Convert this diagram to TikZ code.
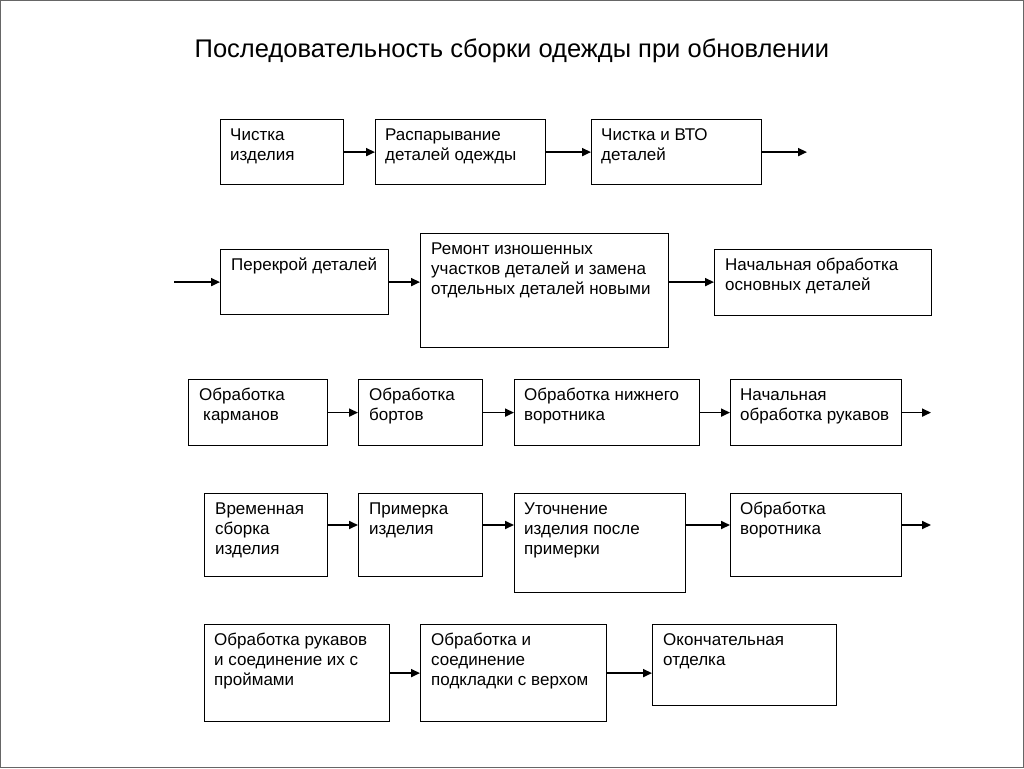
\documentclass[tikz,border=0pt]{standalone}
\usepackage{fontspec}
\setmainfont{Liberation Sans}
\usetikzlibrary{arrows.meta}
\begin{document}
\begin{tikzpicture}[x=1pt,y=-1pt,
  box/.style={draw=black, line width=1.2pt, inner sep=0pt, anchor=north west},
  txt/.style={anchor=north west, inner sep=0pt, align=left, font=\fontsize{17}{20}\selectfont},
  arr/.style={line width=1.7pt, -{Triangle[length=9pt,width=8pt]}},
  frame/.style={draw=black!60, line width=1.2pt}
]
\useasboundingbox (0,0) rectangle (1024,768);
\draw[frame] (0.6,0.6) rectangle (1023.4,767.4);
\node[anchor=center, inner sep=0pt, font=\fontsize{25.5}{30}\selectfont] (title) at (512,51) {Последовательность сборки одежды при обновлении};

% Row 1
\node[box, minimum width=123pt, minimum height=65pt] (a1) at (220,119) {};
\node[txt] (a1t) at (230,126) {\strut Чистка\\изделия};
\node[box, minimum width=170pt, minimum height=65pt] (a2) at (375,119) {};
\node[txt] (a2t) at (385,126) {\strut Распарывание\\деталей одежды};
\node[box, minimum width=170pt, minimum height=65pt] (a3) at (591,119) {};
\node[txt] (a3t) at (601,126) {\strut Чистка и ВТО\\деталей};
\coordinate (a3out) at (807,152);
\draw[arr] (a1.east) -- (a2.west);
\draw[arr] (a2.east) -- (a3.west);
\draw[arr] (a3.east) -- (a3.east -| a3out);

% Row 2
\node[box, minimum width=168pt, minimum height=65pt] (b1) at (220,249) {};
\node[txt] (b1t) at (231,256) {\strut Перекрой деталей};
\node[box, minimum width=248pt, minimum height=114pt] (b2) at (420,233) {};
\node[txt] (b2t) at (431,240) {\strut Ремонт изношенных\\участков деталей и замена\\отдельных деталей новыми};
\node[box, minimum width=217pt, minimum height=66pt] (b3) at (714,249) {};
\node[txt] (b3t) at (725,256) {\strut Начальная обработка\\основных деталей};
\coordinate (b1in) at (174,282);
\draw[arr] (b1.west -| b1in) -- (b1.west);
\draw[arr] (b1.east) -- (b1.east -| b2.west);
\draw[arr] (b1.east -| b2.east) -- (b1.east -| b3.west);

% Row 3
\node[box, minimum width=139pt, minimum height=66pt] (c1) at (188,379) {};
\node[txt] (c1t) at (199,386) {\strut Обработка\\\hspace*{4pt}карманов};
\node[box, minimum width=124pt, minimum height=66pt] (c2) at (358,379) {};
\node[txt] (c2t) at (369,386) {\strut Обработка\\бортов};
\node[box, minimum width=185pt, minimum height=66pt] (c3) at (514,379) {};
\node[txt] (c3t) at (524,386) {\strut Обработка нижнего\\воротника};
\node[box, minimum width=171pt, minimum height=66pt] (c4) at (730,379) {};
\node[txt] (c4t) at (740,386) {\strut Начальная\\обработка рукавов};
\coordinate (c4out) at (931,412);
\draw[arr] (c1.east) -- (c2.west);
\draw[arr] (c2.east) -- (c3.west);
\draw[arr] (c3.east) -- (c4.west);
\draw[arr] (c4.east) -- (c4.east -| c4out);

% Row 4
\node[box, minimum width=123pt, minimum height=83pt] (d1) at (204,493) {};
\node[txt] (d1t) at (215,500) {\strut Временная\\сборка\\изделия};
\node[box, minimum width=124pt, minimum height=83pt] (d2) at (358,493) {};
\node[txt] (d2t) at (369,500) {\strut Примерка\\изделия};
\node[box, minimum width=171pt, minimum height=99pt] (d3) at (514,493) {};
\node[txt] (d3t) at (524,500) {\strut Уточнение\\изделия после\\примерки};
\node[box, minimum width=171pt, minimum height=83pt] (d4) at (730,493) {};
\node[txt] (d4t) at (740,500) {\strut Обработка\\воротника};
\coordinate (d4out) at (931,525);
\draw[arr] (d1.east |- d4out) -- (d2.west |- d4out);
\draw[arr] (d2.east |- d4out) -- (d3.west |- d4out);
\draw[arr] (d3.east |- d4out) -- (d4.west |- d4out);
\draw[arr] (d4.east |- d4out) -- (d4out);

% Row 5
\node[box, minimum width=185pt, minimum height=97pt] (e1) at (204,624) {};
\node[txt] (e1t) at (214,631) {\strut Обработка рукавов\\и соединение их с\\проймами};
\node[box, minimum width=186pt, minimum height=97pt] (e2) at (420,624) {};
\node[txt] (e2t) at (431,631) {\strut Обработка и\\соединение\\подкладки с верхом};
\node[box, minimum width=184pt, minimum height=81pt] (e3) at (652,624) {};
\node[txt] (e3t) at (663,631) {\strut Окончательная\\отделка};
\draw[arr] (e1.east) -- (e2.west);
\draw[arr] (e2.east) -- (e2.east -| e3.west);
\end{tikzpicture}
\end{document}
